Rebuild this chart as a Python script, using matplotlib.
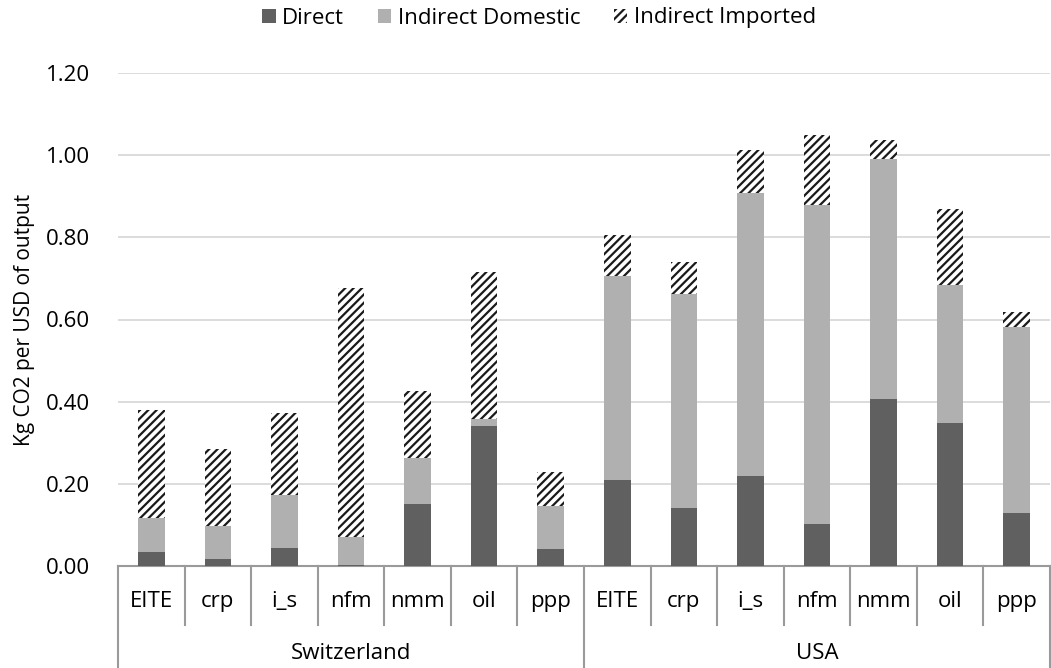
import numpy as np
import matplotlib
matplotlib.use('Agg')
import matplotlib.pyplot as plt
from matplotlib.patches import Patch
import matplotlib.transforms as mtransforms

plt.rcParams['font.family'] = ['Open Sans', 'DejaVu Sans']
plt.rcParams['hatch.linewidth'] = 1.6

##### Data #####
groups = ['Switzerland', 'USA']
sectors = ['EITE', 'crp', 'i_s', 'nfm', 'nmm', 'oil', 'ppp']

# values read as cumulative tops, converted to segment sizes below
direct = [0.034, 0.017, 0.045, 0.002, 0.152, 0.341, 0.041,
          0.209, 0.142, 0.219, 0.103, 0.406, 0.349, 0.130]
domestic_top = [0.118, 0.098, 0.172, 0.071, 0.264, 0.358, 0.147,
                0.706, 0.661, 0.907, 0.878, 0.990, 0.684, 0.582]
total = [0.380, 0.286, 0.372, 0.676, 0.427, 0.716, 0.228,
         0.805, 0.740, 1.012, 1.049, 1.038, 0.868, 0.619]

direct = np.array(direct)
domestic = np.array(domestic_top) - direct
imported = np.array(total) - np.array(domestic_top)

labels = sectors * len(groups)
x = np.arange(len(labels))

c_direct = '#606060'
c_domestic = '#b0b0b0'
c_line = '#9a9a9a'
hatch = '////'

fig = plt.figure(figsize=(10.51, 6.68), dpi=100)
ax = fig.add_axes([118 / 1051, 1 - 566 / 668, 932 / 1051, 493 / 668])

w = 0.4
ax.bar(x, direct, w, color=c_direct, zorder=3)
ax.bar(x, domestic, w, bottom=direct, color=c_domestic, zorder=3)
ax.bar(x, imported, w, bottom=direct + domestic, facecolor='white',
       edgecolor='#1a1a1a', linewidth=0, hatch=hatch, zorder=3)

ax.set_xlim(-0.5, len(labels) - 0.5)
ax.set_ylim(0, 1.2)
ax.set_yticks(np.arange(0, 1.21, 0.2))
ax.set_yticklabels([f'{v:.2f}' for v in np.arange(0, 1.21, 0.2)], fontsize=16)
ax.yaxis.grid(True, color='#d9d9d9', linewidth=1.3, zorder=0)
ax.set_axisbelow(True)
ax.tick_params(axis='y', length=0, pad=20)
ax.set_xticks([])
for s in ['top', 'right', 'left']:
    ax.spines[s].set_visible(False)
ax.spines['bottom'].set_color(c_line)
ax.spines['bottom'].set_linewidth(1.5)
ax.set_ylabel('Kg CO2 per USD of output', fontsize=15, labelpad=8)

# multi-level category axis
trans = mtransforms.blended_transform_factory(ax.transData, ax.transAxes)
n = len(sectors)
for i in range(len(labels) + 1):
    xs = i - 0.5
    y_end = -0.207 if i % n == 0 else -0.12
    ax.plot([xs, xs], [0, y_end], color=c_line, lw=1.5,
            transform=trans, clip_on=False)
for i, lab in enumerate(labels):
    ax.text(i, -0.072, lab, transform=trans, ha='center', va='center',
            fontsize=16)
for g, name in enumerate(groups):
    ax.text(g * n + (n - 1) / 2, -0.177, name, transform=trans,
            ha='center', va='center', fontsize=16)

handles = [Patch(facecolor=c_direct, label='Direct'),
           Patch(facecolor=c_domestic, label='Indirect Domestic'),
           Patch(facecolor='white', edgecolor='#1a1a1a', linewidth=0,
                 hatch=hatch, label='Indirect Imported')]
fig.legend(handles=handles, loc='center', bbox_to_anchor=(539 / 1051, 1 - 18 / 668),
           ncol=3, frameon=False, fontsize=16, handlelength=0.6,
           handleheight=0.6, handletextpad=0.3, columnspacing=1.5)

fig.savefig('out.png', dpi=100)
